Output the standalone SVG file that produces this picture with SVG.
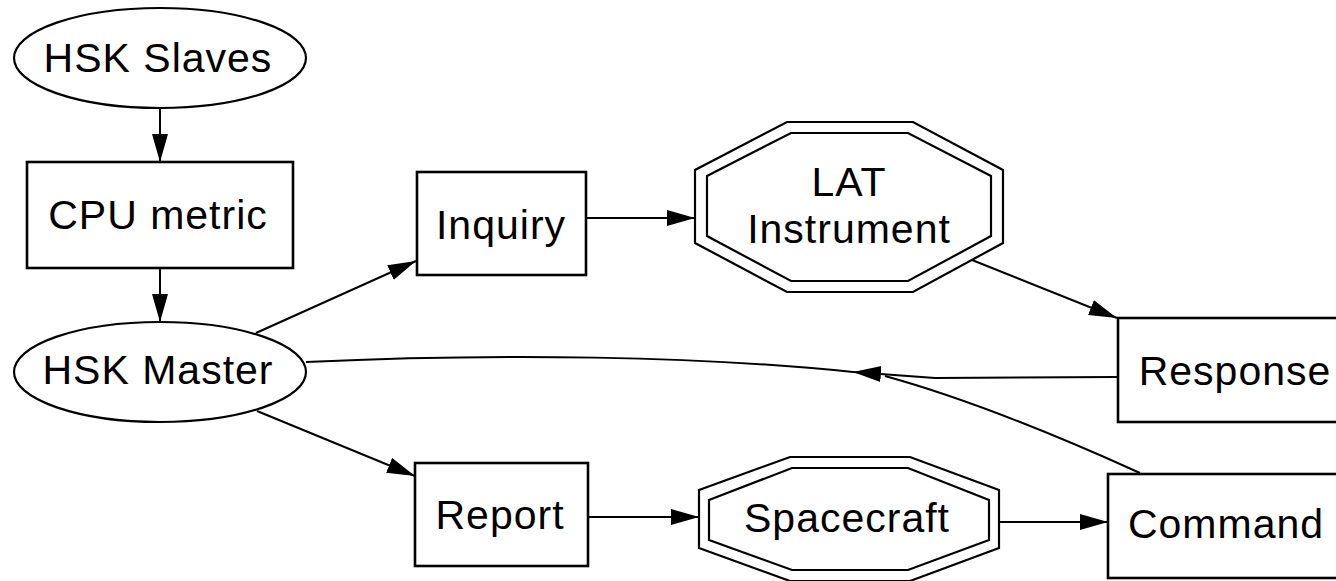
<svg xmlns="http://www.w3.org/2000/svg" width="1336" height="581" viewBox="0 0 1336 581">
  <style>
    .shape { fill: none; stroke: #000; stroke-width: 2.2; }
    .box { fill: none; stroke: #000; stroke-width: 2.6; }
    .edge { fill: none; stroke: #000; stroke-width: 2; }
    .label { font-family: "Liberation Sans", Arial, sans-serif; font-size: 41px; letter-spacing: 1px; fill: #000; text-anchor: middle; }
  </style>
  <defs>
    <marker id="arrow" markerUnits="userSpaceOnUse" markerWidth="30" markerHeight="18" refX="28" refY="8" orient="auto">
      <path d="M0,0 L28,8 L0,16 z" fill="#000"/>
    </marker>
  </defs>
  <rect width="1336" height="581" fill="#fff"/>

  <g id="edges">
    <path class="edge" d="M160,108 L160,162" marker-end="url(#arrow)"/>
    <path class="edge" d="M160,268 L160,322" marker-end="url(#arrow)"/>
    <path class="edge" d="M256,333 L416,261" marker-end="url(#arrow)"/>
    <path class="edge" d="M587,218 L695,218" marker-end="url(#arrow)"/>
    <path class="edge" d="M972,260 L1117,318" marker-end="url(#arrow)"/>
    <path class="edge" d="M1118,377 L935,378 L853,372" marker-end="url(#arrow)"/>
    <path class="edge" d="M1140,473 Q990,405 885,376"/>
    <path class="edge" d="M853,372 C700,356 500,353 306,362"/>
    <path class="edge" d="M257,411 L415,476" marker-end="url(#arrow)"/>
    <path class="edge" d="M588,517 L699,517" marker-end="url(#arrow)"/>
    <path class="edge" d="M999,522 L1108,522" marker-end="url(#arrow)"/>
  </g>

  <g id="hsk-slaves">
    <ellipse class="shape" cx="160" cy="58" rx="146" ry="50"/>
    <text class="label" x="158" y="72">HSK Slaves</text>
  </g>
  <g id="cpu-metric">
    <rect class="box" x="27" y="162" width="266" height="106"/>
    <text class="label" x="158" y="229">CPU metric</text>
  </g>
  <g id="hsk-master">
    <ellipse class="shape" cx="160" cy="372" rx="146" ry="50"/>
    <text class="label" x="158" y="384">HSK Master</text>
  </g>
  <g id="inquiry">
    <rect class="box" x="417" y="172" width="169" height="103"/>
    <text class="label" x="501" y="239">Inquiry</text>
  </g>
  <g id="lat-instrument">
    <polygon class="shape" points="787,122 913,122 1003,170 1003,243 913,292 787,292 695,243 695,170"/>
    <polygon class="shape" points="791,133 908,133 991,176 991,236 908,281 791,281 707,236 707,176"/>
    <text class="label" x="849" y="196">LAT</text>
    <text class="label" x="849" y="243">Instrument</text>
  </g>
  <g id="response">
    <rect class="box" x="1118" y="318" width="240" height="104"/>
    <text class="label" x="1235" y="385">Response</text>
  </g>
  <g id="report">
    <rect class="box" x="415" y="463" width="173" height="103"/>
    <text class="label" x="500" y="529">Report</text>
  </g>
  <g id="spacecraft">
    <polygon class="shape" points="790,457 910,457 999,490 999,548 910,581 790,581 699,548 699,490"/>
    <polygon class="shape" points="792,468 908,468 989,500 989,540 908,570 792,570 709,540 709,500"/>
    <text class="label" x="847" y="532">Spacecraft</text>
  </g>
  <g id="command">
    <rect class="box" x="1108" y="474" width="250" height="104"/>
    <text class="label" x="1226" y="538">Command</text>
  </g>
</svg>
